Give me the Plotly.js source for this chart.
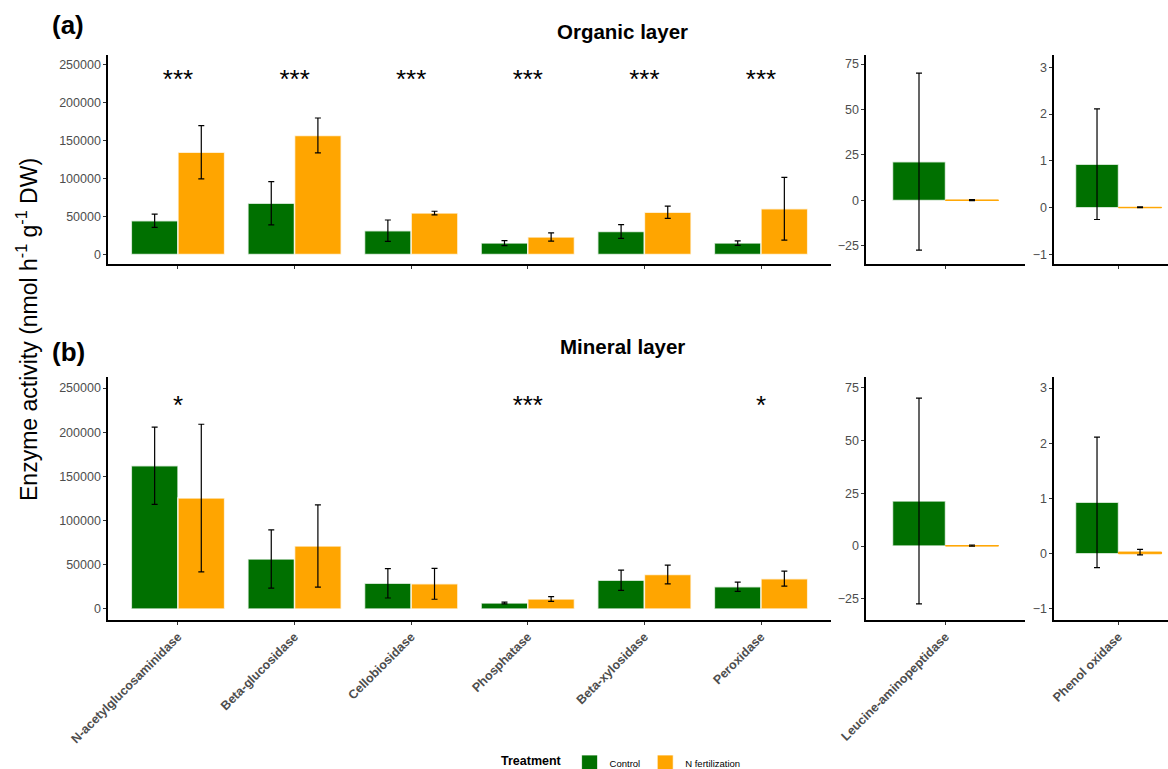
<!DOCTYPE html>
<html>
<head>
<meta charset="utf-8">
<script src="https://cdn.plot.ly/plotly-3.0.1.min.js"></script>
<style>html,body{margin:0;padding:0;background:#fff;}#chart{width:1168px;height:769px;}</style>
</head>
<body>
<div id="chart"></div>
<script>
// ---------- data ----------
const categoriesMain = ['N-acetylglucosaminidase','Beta-glucosidase','Cellobiosidase','Phosphatase','Beta-xylosidase','Peroxidase'];
const categoryLeucine = ['Leucine-aminopeptidase'];
const categoryPhenol = ['Phenol oxidase'];
const treatments = ['Control','N fertilization'];

// Organic layer (a)
const orgControl    = [44500, 67500, 31400, 15000, 30300, 15000];
const orgControlErr = [8700, 28500, 14000, 3200, 9000, 2900];
const orgN          = [134500, 156600, 54500, 23000, 55600, 60200];
const orgNErr       = [35000, 23000, 2400, 5500, 8100, 41400];
const orgLeuControl = [21.3], orgLeuControlErr = [48.7];
const orgLeuN       = [0.2],  orgLeuNErr = [0.3];
const orgPheControl = [0.93], orgPheControlErr = [1.18];
const orgPheN       = [0.01], orgPheNErr = [0.01];
const orgSig = ['***','***','***','***','***','***'];

// Mineral layer (b)
const minControl    = [162000, 56500, 29000, 6800, 32500, 25100];
const minControlErr = [43700, 33000, 16600, 1000, 11500, 5300];
const minN          = [125500, 71300, 28500, 11200, 39000, 34300];
const minNErr       = [83500, 46500, 17500, 2700, 10700, 8500];
const minLeuControl = [21.3], minLeuControlErr = [48.7];
const minLeuN       = [0.2],  minLeuNErr = [0.3];
const minPheControl = [0.93], minPheControlErr = [1.18];
const minPheN       = [0.03], minPheNErr = [0.05];
const minSig = ['*','','','***','','*'];
const sigY = 227500;

const mainTicks = [0, 50000, 100000, 150000, 200000, 250000];
const leuTicks = [-25, 0, 25, 50, 75];
const pheTicks = [-1, 0, 1, 2, 3];

// ---------- style ----------
const GREEN = '#007000', ORANGE = '#FFA500';
const FONT = 'Liberation Sans, Arial, sans-serif';
const errStyle = {color:'#000', thickness:1.2, width:3};

function bar(x, y, err, color, xa, ya, name, small) {
  return {
    type:'bar', x:x, y:y, name:name, xaxis:xa, yaxis:ya, showlegend:false,
    marker:{color:color, line:{color: small && color===ORANGE ? ORANGE : 'rgba(255,255,255,0.75)', width: small && color===ORANGE ? 1 : 1.5}},
    error_y:Object.assign({type:'data', array:err, visible:true}, errStyle),
    hoverinfo:'x+y'
  };
}
function sig(labels, xa, ya) {
  return {type:'scatter', mode:'text', x:categoriesMain, y:labels.map(()=>sigY), text:labels,
    textfont:{size:26, color:'#000', family:FONT}, xaxis:xa, yaxis:ya, showlegend:false, hoverinfo:'skip', cliponaxis:false};
}

const data = [
  bar(categoriesMain, orgControl, orgControlErr, GREEN, 'x', 'y', treatments[0]),
  bar(categoriesMain, orgN, orgNErr, ORANGE, 'x', 'y', treatments[1]),
  bar(categoryLeucine, orgLeuControl, orgLeuControlErr, GREEN, 'x2', 'y2', treatments[0], true),
  bar(categoryLeucine, orgLeuN, orgLeuNErr, ORANGE, 'x2', 'y2', treatments[1], true),
  bar(categoryPhenol, orgPheControl, orgPheControlErr, GREEN, 'x3', 'y3', treatments[0], true),
  bar(categoryPhenol, orgPheN, orgPheNErr, ORANGE, 'x3', 'y3', treatments[1], true),
  bar(categoriesMain, minControl, minControlErr, GREEN, 'x4', 'y4', treatments[0]),
  bar(categoriesMain, minN, minNErr, ORANGE, 'x4', 'y4', treatments[1]),
  bar(categoryLeucine, minLeuControl, minLeuControlErr, GREEN, 'x5', 'y5', treatments[0], true),
  bar(categoryLeucine, minLeuN, minLeuNErr, ORANGE, 'x5', 'y5', treatments[1], true),
  bar(categoryPhenol, minPheControl, minPheControlErr, GREEN, 'x6', 'y6', treatments[0], true),
  bar(categoryPhenol, minPheN, minPheNErr, ORANGE, 'x6', 'y6', treatments[1], true),
  sig(orgSig, 'x', 'y'),
  sig(minSig, 'x4', 'y4'),
  // legend entries
  {type:'scatter', mode:'markers', x:[null], y:[null], name:treatments[0], xaxis:'x', yaxis:'y',
   marker:{symbol:'square', size:18, color:GREEN, line:{color:'rgba(255,255,255,0.75)', width:1}}, showlegend:true},
  {type:'scatter', mode:'markers', x:[null], y:[null], name:treatments[1], xaxis:'x', yaxis:'y',
   marker:{symbol:'square', size:18, color:ORANGE, line:{color:'rgba(255,255,255,0.75)', width:1}}, showlegend:true}
];

const W = 1168, H = 769;
const topDom = [1-264/H, 1-55/H];
const botDom = [1-620/H, 1-377/H];
const mainX = [108/W, 831/W];
const leuX = [866/W, 1025/W];
const pheX = [1054/W, 1];

const tickFont = {size:12.5, color:'#4d4d4d', family:FONT};
const xTickFont = {size:12.5, color:'#4d4d4d', family:FONT, weight:'bold'};
function xax(dom, anchor, range, labels) {
  return {domain:dom, anchor:anchor, range:range, type:'category', showgrid:false, zeroline:false,
    showline:true, linecolor:'#000', linewidth:1.6, ticks:'outside', ticklen:3, tickcolor:'#333', tickwidth:1,
    showticklabels:labels, tickangle:-45, tickfont:xTickFont, fixedrange:true};
}
function yax(dom, anchor, range, tickvals) {
  return {domain:dom, anchor:anchor, range:range, tickvals:tickvals, tickformat:'d', showgrid:false, zeroline:false,
    showline:true, linecolor:'#000', linewidth:1.6, ticks:'outside', ticklen:3, tickcolor:'#333', tickwidth:1,
    tickfont:tickFont, fixedrange:true};
}

const layout = {
  width:W, height:H,
  margin:{l:0, r:0, t:0, b:0, autoexpand:false},
  paper_bgcolor:'#fff', plot_bgcolor:'#fff',
  font:{family:FONT, color:'#000'},
  barmode:'group', bargap:0.2, bargroupgap:0,
  showlegend:true,
  legend:{orientation:'h', x:499/W, xanchor:'left', y:1-763/H, yanchor:'middle',
    title:{text:'Treatment', font:{size:12.5, family:FONT, weight:'bold', color:'#000'}, side:'left'},
    font:{size:9.5, family:FONT, color:'#000'}, itemsizing:'trace', itemwidth:30, tracegroupgap:0},
  xaxis: xax(mainX, 'y', [-0.6, 5.6], false),
  yaxis: yax(topDom, 'x', [-12500, 262500], mainTicks),
  xaxis2: xax(leuX, 'y2', [-0.6, 0.6], false),
  yaxis2: yax(topDom, 'x2', [-35, 80], leuTicks),
  xaxis3: xax(pheX, 'y3', [-0.6, 0.46], false),
  yaxis3: yax(topDom, 'x3', [-1.2, 3.26], pheTicks),
  xaxis4: xax(mainX, 'y4', [-0.6, 5.6], true),
  yaxis4: yax(botDom, 'x4', [-12500, 262500], mainTicks),
  xaxis5: xax(leuX, 'y5', [-0.6, 0.6], true),
  yaxis5: yax(botDom, 'x5', [-35, 80], leuTicks),
  xaxis6: xax(pheX, 'y6', [-0.6, 0.46], true),
  yaxis6: yax(botDom, 'x6', [-1.2, 3.2], pheTicks),
  annotations:[
    {text:'<b>Organic layer</b>', xref:'paper', yref:'paper', x:622/W, y:1-32/H, xanchor:'center', yanchor:'middle', showarrow:false, font:{size:20.5, family:FONT}},
    {text:'<b>Mineral layer</b>', xref:'paper', yref:'paper', x:622/W, y:1-346/H, xanchor:'center', yanchor:'middle', showarrow:false, font:{size:20.5, family:FONT}},
    {text:'<b>(a)</b>', xref:'paper', yref:'paper', x:68/W, y:1-25/H, xanchor:'center', yanchor:'middle', showarrow:false, font:{size:26, family:FONT}},
    {text:'<b>(b)</b>', xref:'paper', yref:'paper', x:68/W, y:1-352/H, xanchor:'center', yanchor:'middle', showarrow:false, font:{size:26, family:FONT}},
    {text:'Enzyme activity (nmol h<sup>-1</sup> g<sup>-1</sup> DW)', xref:'paper', yref:'paper', x:27/W, y:1-330/H,
     xanchor:'center', yanchor:'middle', textangle:-90, showarrow:false, font:{size:23, family:FONT}}
  ]
};

Plotly.newPlot('chart', data, layout, {displayModeBar:false, staticPlot:true});
</script>
</body>
</html>
